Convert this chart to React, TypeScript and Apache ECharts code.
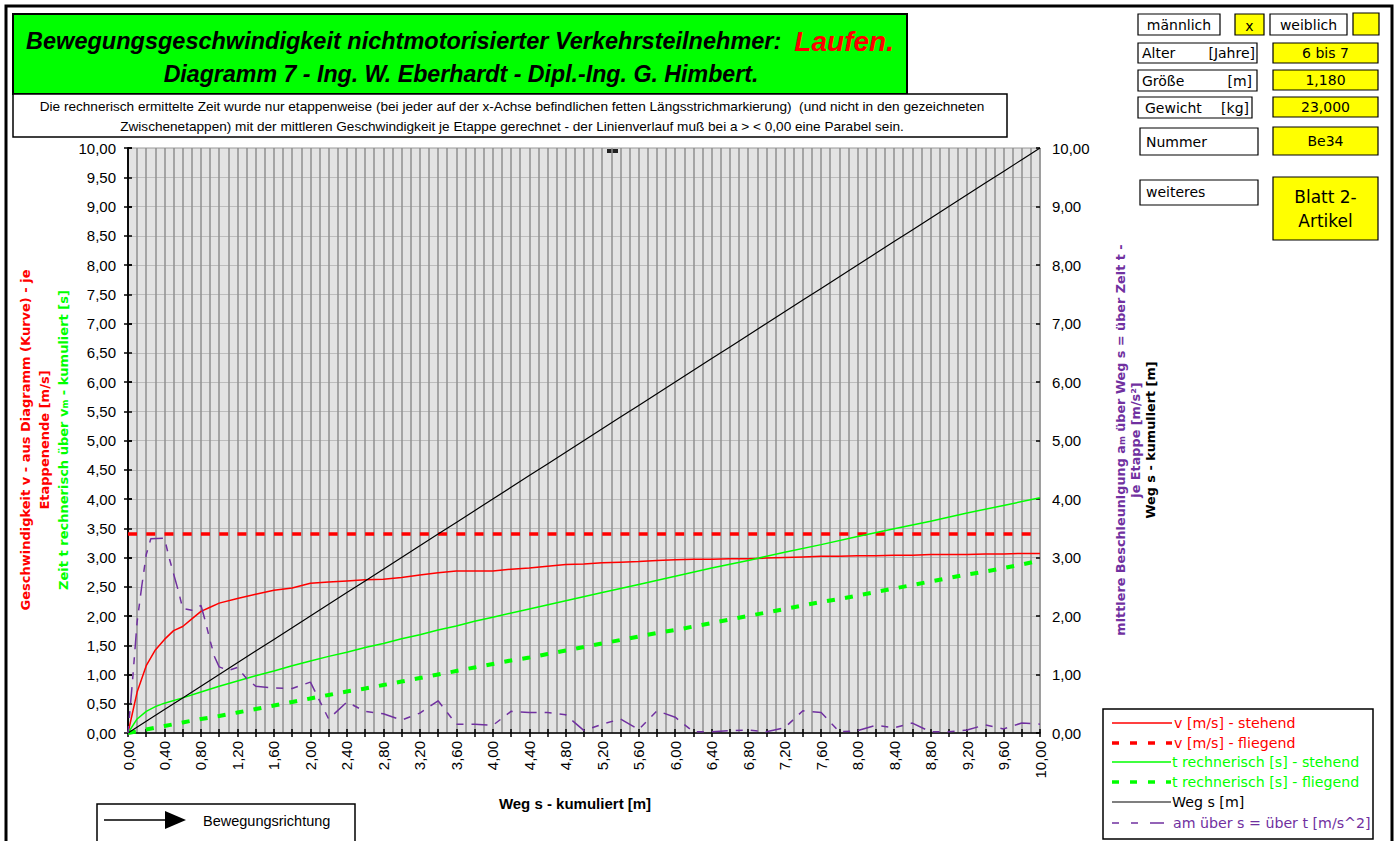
import React, { useEffect, useRef } from "react";
import * as echarts from "echarts";

// ---------- data ----------
// x positions (Weg s in m) in 0.2 steps
const sSteps = [0, 0.2, 0.4, 0.6, 0.8, 1.0, 1.2, 1.4, 1.6, 1.8, 2.0, 2.2, 2.4, 2.6, 2.8, 3.0, 3.2, 3.4, 3.6, 3.8, 4.0, 4.2, 4.4, 4.6, 4.8, 5.0, 5.2, 5.4, 5.6, 5.8, 6.0, 6.2, 6.4, 6.6, 6.8, 7.0, 7.2, 7.4, 7.6, 7.8, 8.0, 8.2, 8.4, 8.6, 8.8, 9.0, 9.2, 9.4, 9.6, 9.8, 10.0];

// v [m/s] - stehend
const vStehendX = [0, 0.1, 0.2, 0.3, 0.4, 0.5, 0.6, 0.7, 0.8, 0.9, 1.0, 1.2, 1.4, 1.6, 1.8, 2.0, 2.2, 2.4, 2.6, 2.8, 3.0, 3.2, 3.4, 3.6, 3.8, 4.0, 4.2, 4.4, 4.6, 4.8, 5.0, 5.2, 5.4, 5.6, 5.8, 6.0, 6.2, 6.4, 6.6, 6.8, 7.0, 7.2, 7.4, 7.6, 7.8, 8.0, 8.2, 8.4, 8.6, 8.8, 9.0, 9.2, 9.4, 9.6, 9.8, 10.0];
const vStehend = [0, 0.7, 1.15, 1.42, 1.6, 1.75, 1.82, 1.95, 2.08, 2.15, 2.22, 2.3, 2.37, 2.44, 2.48, 2.56, 2.58, 2.6, 2.62, 2.63, 2.66, 2.7, 2.74, 2.77, 2.77, 2.77, 2.8, 2.82, 2.85, 2.88, 2.89, 2.91, 2.92, 2.93, 2.95, 2.96, 2.97, 2.97, 2.98, 2.98, 2.99, 3.0, 3.01, 3.02, 3.02, 3.03, 3.03, 3.04, 3.04, 3.05, 3.05, 3.05, 3.06, 3.06, 3.07, 3.07];

// v [m/s] - fliegend
const vFliegendX = [0, 10];
const vFliegend = [3.4, 3.4];

// t rechnerisch [s] - stehend
const tStehendX = [0, 0.1, 0.2, 0.3, 0.4, 0.6, 0.8, 1.0, 1.2, 1.4, 1.6, 1.8, 2.0, 2.2, 2.4, 2.6, 2.8, 3.0, 3.2, 3.4, 3.6, 3.8, 4.0, 4.4, 4.8, 5.2, 5.6, 6.0, 6.4, 6.8, 7.2, 7.6, 8.0, 8.4, 8.8, 9.2, 9.6, 10.0];
const tStehend = [0, 0.24, 0.37, 0.45, 0.51, 0.6, 0.7, 0.8, 0.89, 0.98, 1.06, 1.15, 1.23, 1.31, 1.38, 1.46, 1.53, 1.61, 1.68, 1.76, 1.83, 1.91, 1.98, 2.12, 2.26, 2.4, 2.54, 2.68, 2.82, 2.95, 3.09, 3.22, 3.36, 3.49, 3.62, 3.76, 3.89, 4.02];

// t rechnerisch [s] - fliegend (at sSteps)
const tFliegend = [0, 0.06, 0.12, 0.18, 0.24, 0.29, 0.35, 0.41, 0.47, 0.53, 0.59, 0.65, 0.71, 0.76, 0.82, 0.88, 0.94, 1.0, 1.06, 1.12, 1.18, 1.24, 1.29, 1.35, 1.41, 1.47, 1.53, 1.59, 1.65, 1.71, 1.76, 1.82, 1.88, 1.94, 2.0, 2.06, 2.12, 2.18, 2.24, 2.29, 2.35, 2.41, 2.47, 2.53, 2.59, 2.65, 2.71, 2.76, 2.82, 2.88, 2.95];

// Weg s [m] (at sSteps)
const wegS = [0, 0.2, 0.4, 0.6, 0.8, 1.0, 1.2, 1.4, 1.6, 1.8, 2.0, 2.2, 2.4, 2.6, 2.8, 3.0, 3.2, 3.4, 3.6, 3.8, 4.0, 4.2, 4.4, 4.6, 4.8, 5.0, 5.2, 5.4, 5.6, 5.8, 6.0, 6.2, 6.4, 6.6, 6.8, 7.0, 7.2, 7.4, 7.6, 7.8, 8.0, 8.2, 8.4, 8.6, 8.8, 9.0, 9.2, 9.4, 9.6, 9.8, 10.0];

// am über s = über t [m/s^2]
const amX = [0, 0.05, 0.1, 0.15, 0.2, 0.25, 0.4, 0.45, 0.5, 0.55, 0.6, 0.7, 0.8, 0.85, 0.9, 0.95, 1.0, 1.1, 1.2, 1.3, 1.4, 1.6, 1.8, 2.0, 2.2, 2.4, 2.6, 2.8, 3.0, 3.2, 3.4, 3.6, 3.8, 4.0, 4.2, 4.4, 4.6, 4.8, 5.0, 5.2, 5.4, 5.6, 5.8, 6.0, 6.2, 6.4, 6.6, 6.8, 7.0, 7.2, 7.4, 7.6, 7.8, 8.0, 8.2, 8.4, 8.6, 8.8, 9.0, 9.2, 9.4, 9.6, 9.8, 10.0];
const amVals = [0, 0.9, 1.9, 2.5, 3.05, 3.32, 3.33, 3.0, 2.72, 2.44, 2.13, 2.1, 2.18, 1.9, 1.58, 1.3, 1.13, 1.07, 1.12, 0.93, 0.8, 0.77, 0.76, 0.87, 0.24, 0.53, 0.37, 0.33, 0.22, 0.34, 0.55, 0.15, 0.15, 0.13, 0.37, 0.35, 0.35, 0.31, 0.04, 0.15, 0.24, 0.06, 0.38, 0.27, 0.02, 0.02, 0.04, 0.05, 0.02, 0.09, 0.38, 0.35, 0.02, 0.04, 0.13, 0.09, 0.17, 0.02, 0.02, 0.05, 0.14, 0.07, 0.17, 0.15];

const legendLabels = [
  "v [m/s] - stehend",
  "v [m/s] - fliegend",
  "t rechnerisch [s] - stehend",
  "t rechnerisch [s] - fliegend",
  "Weg s [m]",
  "am über s = über t [m/s^2]",
];

// ---------- styling ----------
const ARIAL = "'Liberation Sans', Arial, sans-serif";
const TAHOMA = "'DejaVu Sans', Verdana, sans-serif";
const RED = "#ff0000";
const GREEN = "#00ff00";
const PURPLE = "#7030a0";

const pairs = (xs: number[], ys: number[]) => xs.map((x, i) => [x, ys[i]]);
const fmt2 = (v: number) => (Math.round(v * 100) / 100).toFixed(2).replace(".", ",");

function buildGraphic() {
  const g: any[] = [];
  const rect = (x: number, y: number, w: number, h: number, fill: string, lw = 1.5, stroke = "#000") => ({
    type: "rect",
    silent: true,
    shape: { x, y, width: w, height: h },
    style: { fill, stroke, lineWidth: lw },
  });
  const text = (x: number, y: number, t: string, o: any = {}) => ({
    type: "text",
    silent: true,
    x,
    y,
    rotation: o.rotation || 0,
    style: {
      text: t,
      fill: o.fill || "#000",
      fontSize: o.fontSize || 14,
      fontFamily: o.fontFamily || TAHOMA,
      fontWeight: o.fontWeight || "normal",
      fontStyle: o.fontStyle || "normal",
      align: o.align || "left",
      verticalAlign: "middle",
      rich: o.rich,
    },
  });

  // outer frame
  g.push({ type: "rect", silent: true, shape: { x: 6, y: 6, width: 1386, height: 900 }, style: { fill: "none", stroke: "#000", lineWidth: 3 } });

  // title box
  g.push(rect(13, 14, 894, 80, GREEN, 2));
  g.push(
    text(460, 41, "{a|Bewegungsgeschwindigkeit nichtmotorisierter Verkehrsteilnehmer:  }{b|Laufen.}", {
      align: "center",
      rich: {
        a: { fontSize: 23.5, fontWeight: "bold", fontStyle: "italic", fontFamily: ARIAL, fill: "#000" },
        b: { fontSize: 28, fontWeight: "bold", fontStyle: "italic", fontFamily: ARIAL, fill: RED },
      },
    })
  );
  g.push(
    text(461, 74, "Diagramm 7 - Ing. W. Eberhardt - Dipl.-Ing. G. Himbert.", {
      align: "center",
      fontSize: 23.2,
      fontWeight: "bold",
      fontStyle: "italic",
      fontFamily: ARIAL,
    })
  );

  // note box
  g.push(rect(13, 94, 994, 43, "#ffffff", 1.5));
  g.push(
    text(512, 106, "Die rechnerisch ermittelte Zeit wurde nur etappenweise (bei jeder auf der x-Achse befindlichen fetten Längsstrichmarkierung)  (und nicht in den gezeichneten", {
      align: "center",
      fontSize: 13.6,
      fontFamily: ARIAL,
    })
  );
  g.push(
    text(512, 126, "Zwischenetappen) mit der mittleren Geschwindigkeit je Etappe gerechnet - der Linienverlauf muß bei a > < 0,00 eine Parabel sein.", {
      align: "center",
      fontSize: 13.6,
      fontFamily: ARIAL,
    })
  );

  // right info boxes
  const Y = "#ffff00";
  g.push(rect(1138, 14, 82, 21, "#fff", 1.2));
  g.push(text(1179, 25, "männlich", { align: "center" }));
  g.push(rect(1235, 14, 29, 21, Y, 1.2));
  g.push(text(1249.5, 26, "x", { align: "center" }));
  g.push(rect(1270, 14, 77, 21, "#fff", 1.2));
  g.push(text(1308.5, 25, "weiblich", { align: "center" }));
  g.push(rect(1353, 13, 26, 22, Y, 1.2));

  g.push(rect(1138, 43, 119, 20, "#fff", 1.2));
  g.push(text(1142, 53, "Alter"));
  g.push(text(1255, 53, "[Jahre]", { align: "right" }));
  g.push(rect(1273, 43, 105, 20, Y, 1.2));
  g.push(text(1325.5, 53, "6 bis 7", { align: "center" }));

  g.push(rect(1138, 70, 119, 21, "#fff", 1.2));
  g.push(text(1142, 80.5, "Größe"));
  g.push(text(1252, 80.5, "[m]", { align: "right" }));
  g.push(rect(1273, 70, 105, 20, Y, 1.2));
  g.push(text(1325.5, 80, "1,180", { align: "center" }));

  g.push(rect(1138, 97, 114, 21, "#fff", 1.2));
  g.push(text(1145, 107.5, "Gewicht"));
  g.push(text(1249, 107.5, "[kg]", { align: "right" }));
  g.push(rect(1273, 97, 105, 20, Y, 1.2));
  g.push(text(1325.5, 107, "23,000", { align: "center" }));

  g.push(rect(1140, 128, 118, 27, "#fff", 1.2));
  g.push(text(1146, 141.5, "Nummer"));
  g.push(rect(1273, 127, 105, 28, Y, 1.2));
  g.push(text(1325.5, 141, "Be34", { align: "center" }));

  g.push(rect(1140, 180, 118, 25, "#fff", 1.2));
  g.push(text(1146, 192, "weiteres"));
  g.push(rect(1273, 177, 105, 63, Y, 1.2));
  g.push(text(1325.5, 197, "Blatt 2-", { align: "center", fontSize: 17 }));
  g.push(text(1325.5, 221, "Artikel", { align: "center", fontSize: 17 }));

  // left axis titles (rotated)
  const rot = Math.PI / 2;
  g.push(text(25, 440, "Geschwindigkeit v - aus Diagramm (Kurve) - je", { rotation: rot, align: "center", fill: RED, fontWeight: "bold", fontSize: 13 }));
  g.push(text(44, 440, "Etappenende [m/s]", { rotation: rot, align: "center", fill: RED, fontWeight: "bold", fontSize: 13 }));
  g.push(
    text(63, 440, "{n|Zeit t rechnerisch über v}{s|m}{n| - kumuliert [s]}", {
      rotation: rot,
      align: "center",
      rich: {
        n: { fontSize: 13, fontWeight: "bold", fontFamily: TAHOMA, fill: GREEN },
        s: { fontSize: 8.5, fontWeight: "bold", fontFamily: TAHOMA, fill: GREEN, verticalAlign: "bottom" },
      },
    })
  );

  // right axis titles (rotated)
  g.push(
    text(1120, 440, "{n|mittlere Beschleunigung a}{s|m}{n| über Weg s = über Zeit t -}", {
      rotation: rot,
      align: "center",
      rich: {
        n: { fontSize: 12.8, fontWeight: "bold", fontFamily: TAHOMA, fill: PURPLE },
        s: { fontSize: 8.5, fontWeight: "bold", fontFamily: TAHOMA, fill: PURPLE, verticalAlign: "bottom" },
      },
    })
  );
  g.push(text(1135, 440, "je Etappe [m/s²]", { rotation: rot, align: "center", fill: PURPLE, fontWeight: "bold", fontSize: 12.8 }));
  g.push(text(1150, 440, "Weg s - kumuliert [m]", { rotation: rot, align: "center", fill: "#000", fontWeight: "bold", fontSize: 12.8 }));

  // x axis title
  g.push(text(575, 803, "Weg s - kumuliert [m]", { align: "center", fontWeight: "bold", fontSize: 15, fontFamily: ARIAL }));

  // small mark at top of plot
  g.push({ type: "rect", silent: true, shape: { x: 607, y: 149, width: 11, height: 4 }, style: { fill: "#222" } });

  // legend
  g.push(rect(1103, 709, 270, 130, "#fff", 1.5));
  const rows = [723, 743, 762, 782, 802, 823];
  const legendStyles = [
    { color: RED, width: 1.5, dash: null as any, x2: 1172, tx: 1174 },
    { color: RED, width: 3.5, dash: [7, 11], x2: 1172, tx: 1174 },
    { color: GREEN, width: 1.5, dash: null, x2: 1171, tx: 1172 },
    { color: GREEN, width: 3.5, dash: [7, 11], x2: 1171, tx: 1172 },
    { color: "#000", width: 1.2, dash: null, x2: 1171, tx: 1172 },
    { color: PURPLE, width: 1.5, dash: [7, 12, 7, 12, 14, 60], x2: 1165, tx: 1173 },
  ];
  legendLabels.forEach((lab, i) => {
    const st = legendStyles[i];
    g.push({
      type: "line",
      silent: true,
      shape: { x1: 1112, y1: rows[i], x2: st.x2, y2: rows[i] },
      style: { stroke: st.color, lineWidth: st.width, lineDash: st.dash || undefined },
    });
    g.push(text(st.tx, rows[i], lab, { fill: st.color, fontSize: 14.2 }));
  });

  // Bewegungsrichtung box
  g.push(rect(97, 804, 258, 60, "#fff", 1.5));
  g.push({ type: "line", silent: true, shape: { x1: 104, y1: 820, x2: 168, y2: 820 }, style: { stroke: "#000", lineWidth: 1.5 } });
  g.push({ type: "polygon", silent: true, shape: { points: [[165, 811], [186, 820], [165, 829]] }, style: { fill: "#000" } });
  g.push(text(203, 821, "Bewegungsrichtung", { fontSize: 14.5, fontFamily: ARIAL }));

  return g;
}

function buildOption() {
  const axisLineStyle = { color: "#000", width: 1.5 };
  const tickStyle = { color: "#000", width: 1.5 };
  const vGrid = { color: "#8f8f8f", width: 1.5 };
  const labelBase = { color: "#000", fontSize: 15, fontFamily: ARIAL };
  return {
    animation: false,
    backgroundColor: "#ffffff",
    grid: {
      left: 128,
      right: 357,
      top: 148,
      bottom: 108,
      show: true,
      backgroundColor: "#e3e3e3",
      borderColor: "#999999",
      borderWidth: 1,
    },
    xAxis: [
      {
        type: "value",
        min: 0,
        max: 10,
        interval: 0.2,
        position: "bottom",
        axisLine: { show: true, onZero: false, lineStyle: axisLineStyle },
        axisTick: { show: true, length: 4, lineStyle: tickStyle },
        axisLabel: {
          ...labelBase,
          rotate: 90,
          margin: 8,
          showMaxLabel: true,
          showMinLabel: true,
          formatter: (v: number) => {
            const k = Math.round(v * 10);
            return k % 4 === 0 ? fmt2(k / 10) : "";
          },
        },
        splitLine: { show: true, lineStyle: vGrid },
        minorTick: { show: false, splitNumber: 2 },
        minorSplitLine: { show: true, lineStyle: vGrid },
      },
      {
        type: "value",
        min: 0,
        max: 10,
        interval: 0.2,
        position: "bottom",
        axisLine: { show: false, onZero: false },
        axisTick: { show: true, inside: true, length: 4, lineStyle: tickStyle },
        axisLabel: { show: false },
        splitLine: { show: false },
      },
    ],
    yAxis: [
      {
        type: "value",
        min: 0,
        max: 10,
        interval: 0.5,
        position: "left",
        axisLine: { show: true, lineStyle: axisLineStyle },
        axisTick: { show: true, length: 4, lineStyle: tickStyle },
        axisLabel: { ...labelBase, margin: 12, formatter: (v: number) => fmt2(v) },
        splitLine: { show: true, lineStyle: { color: "#bcbcbc", width: 1.2 } },
      },
      {
        type: "value",
        min: 0,
        max: 10,
        interval: 1,
        position: "right",
        axisLine: { show: true, lineStyle: axisLineStyle },
        axisTick: { show: true, length: 4, lineStyle: tickStyle },
        axisLabel: { ...labelBase, margin: 12, formatter: (v: number) => fmt2(v) },
        splitLine: { show: false },
      },
      {
        type: "value",
        min: 0,
        max: 10,
        interval: 0.5,
        position: "left",
        axisLine: { show: false },
        axisTick: { show: true, inside: true, length: 4, lineStyle: tickStyle },
        axisLabel: { show: false },
        splitLine: { show: false },
      },
      {
        type: "value",
        min: 0,
        max: 10,
        interval: 1,
        position: "right",
        axisLine: { show: false },
        axisTick: { show: true, inside: true, length: 4, lineStyle: tickStyle },
        axisLabel: { show: false },
        splitLine: { show: false },
      },
    ],
    series: [
      {
        name: legendLabels[0],
        type: "line",
        xAxisIndex: 0,
        yAxisIndex: 0,
        data: pairs(vStehendX, vStehend),
        symbol: "none",
        lineStyle: { color: RED, width: 1.5 },
        itemStyle: { color: RED },
      },
      {
        name: legendLabels[1],
        type: "line",
        xAxisIndex: 0,
        yAxisIndex: 0,
        data: pairs(vFliegendX, vFliegend),
        symbol: "none",
        lineStyle: { color: RED, width: 3.5, type: [9, 9.24] },
        itemStyle: { color: RED },
      },
      {
        name: legendLabels[2],
        type: "line",
        xAxisIndex: 0,
        yAxisIndex: 0,
        data: pairs(tStehendX, tStehend),
        symbol: "none",
        lineStyle: { color: GREEN, width: 1.5 },
        itemStyle: { color: GREEN },
      },
      {
        name: legendLabels[3],
        type: "line",
        xAxisIndex: 0,
        yAxisIndex: 0,
        data: pairs(sSteps, tFliegend),
        symbol: "none",
        lineStyle: { color: GREEN, width: 4, type: [8, 10.24] },
        itemStyle: { color: GREEN },
      },
      {
        name: legendLabels[4],
        type: "line",
        xAxisIndex: 0,
        yAxisIndex: 1,
        data: pairs(sSteps, wegS),
        symbol: "none",
        lineStyle: { color: "#000", width: 1.2 },
        itemStyle: { color: "#000" },
      },
      {
        name: legendLabels[5],
        type: "line",
        xAxisIndex: 0,
        yAxisIndex: 1,
        data: pairs(amX, amVals),
        symbol: "none",
        lineStyle: { color: PURPLE, width: 1.5, type: [7, 8, 7, 8, 16, 8] },
        itemStyle: { color: PURPLE },
      },
    ],
    graphic: buildGraphic(),
  };
}

export default function App() {
  const ref = useRef<HTMLDivElement>(null);
  useEffect(() => {
    if (!ref.current) return;
    const chart = echarts.init(ref.current, null, { renderer: "svg" });
    chart.setOption(buildOption() as any);
    return () => chart.dispose();
  }, []);
  return (
    <div
      ref={ref}
      style={{ position: "fixed", left: 0, top: 0, width: 1397, height: 841, background: "#ffffff" }}
    />
  );
}
